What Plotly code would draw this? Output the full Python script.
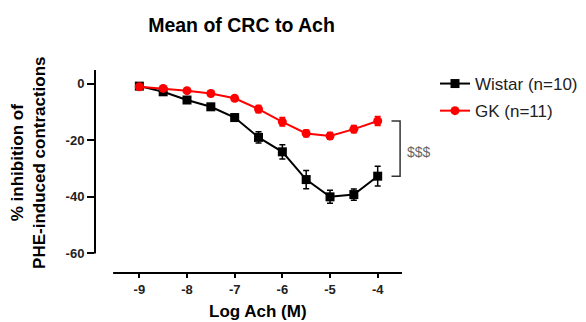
import plotly.graph_objects as go

log_ach = [-9, -8.5, -8, -7.5, -7, -6.5, -6, -5.5, -5, -4.5, -4]
wistar_mean = [-0.9, -2.9, -5.8, -8.2, -12.0, -19.0, -24.1, -33.9, -40.0, -39.2, -32.7]
wistar_sem = [0.8, 0.8, 0.9, 1.0, 1.2, 2.0, 2.5, 3.2, 2.3, 2.0, 3.5]
gk_mean = [-1.1, -1.7, -2.5, -3.5, -5.2, -9.0, -13.5, -17.6, -18.5, -16.1, -13.2]
gk_sem = [0.6, 0.6, 0.7, 0.7, 0.9, 1.3, 1.5, 1.2, 1.2, 1.3, 1.6]

x_ticks = [-9, -8, -7, -6, -5, -4]
y_ticks = [0, -20, -40, -60]

FONT = "Arial, Liberation Sans, sans-serif"
OFF = 8  # page body margin
W, H = 586 - OFF, 322 - OFF

fig = go.Figure()
fig.add_trace(go.Scatter(
    x=log_ach, y=wistar_mean, name="Wistar (n=10)", mode="lines+markers",
    line=dict(color="black", width=2),
    marker=dict(symbol="square", size=9, color="black"),
    error_y=dict(type="data", array=wistar_sem, color="black", thickness=1.5, width=3),
    legendgroup="w",
))
fig.add_trace(go.Scatter(
    x=log_ach, y=gk_mean, name="GK (n=11)", mode="lines+markers",
    line=dict(color="#ff0000", width=2),
    marker=dict(symbol="circle", size=9, color="#ff0000"),
    error_y=dict(type="data", array=gk_sem, color="#ff0000", thickness=1.5, width=3),
    legendgroup="g",
))

x_range = [-9.93, -3.49]
y_range = [-66.9, 4.8]

# offset axis lines (GraphPad style)
fig.add_shape(type="line", xref="paper", yref="y", x0=0, x1=0, y0=-60, y1=y_range[1],
              line=dict(color="black", width=2))
fig.add_shape(type="line", xref="x", yref="paper", x0=-9.55, x1=x_range[1], y0=0, y1=0,
              line=dict(color="black", width=2))

# significance bracket
bx = -3.53
fig.add_shape(type="path", xref="x", yref="y",
              path=f"M {-3.71},{gk_mean[-1]} L {bx},{gk_mean[-1]} L {bx},{wistar_mean[-1]} L {-3.71},{wistar_mean[-1]}",
              line=dict(color="#333333", width=1.5))
fig.add_annotation(x=bx, y=(gk_mean[-1] + wistar_mean[-1]) / 2, xref="x", yref="y",
                   text="$$$", showarrow=False, xanchor="left", yanchor="middle",
                   xshift=5, yshift=-3,
                   font=dict(family=FONT, size=14, color="#666666"))

fig.add_annotation(text="<b>% inhibition of<br>PHE-induced contractions</b>", textangle=-90,
                   xref="paper", yref="paper", x=-0.215, y=0.547, showarrow=False,
                   xanchor="center", yanchor="middle",
                   font=dict(family=FONT, size=17, color="black"))
fig.add_annotation(text="<b>Log Ach (M)</b>", xref="paper", yref="paper",
                   x=0.531, y=-0.19, showarrow=False, xanchor="center", yanchor="middle",
                   font=dict(family=FONT, size=17, color="black"))

fig.update_layout(
    width=W, height=H,
    margin=dict(l=95 - OFF, r=W - (402 - OFF), t=70 - OFF, b=H - (273 - OFF),
                autoexpand=False),
    plot_bgcolor="white", paper_bgcolor="white",
    title=dict(text="<b>Mean of CRC to Ach</b>", x=(241.5 - OFF) / W, xanchor="center",
               y=1 - (25 - OFF) / H, yanchor="middle",
               font=dict(family=FONT, size=19.5, color="black")),
    xaxis=dict(range=x_range, tickvals=x_ticks, ticktext=[f"<b>{v}</b>" for v in x_ticks],
               showgrid=False, zeroline=False, showline=False, automargin=False,
               ticks="outside", ticklen=4, tickwidth=1.5, tickcolor="black",
               tickfont=dict(family=FONT, size=13, color="#222222")),
    yaxis=dict(range=y_range, tickvals=y_ticks, ticktext=[f"<b>{v}</b>" for v in y_ticks],
               showgrid=False, zeroline=False, showline=False, automargin=False,
               ticks="outside", ticklen=7, tickwidth=1.5, tickcolor="black",
               tickfont=dict(family=FONT, size=13, color="#222222")),
    legend=dict(x=(435 - 95) / 307, y=1 + 4/203, xanchor="left", yanchor="top",
                font=dict(family=FONT, size=17, color="#222222"),
                tracegroupgap=2, bgcolor="rgba(0,0,0,0)"),
)

fig.write_html("out.html")
